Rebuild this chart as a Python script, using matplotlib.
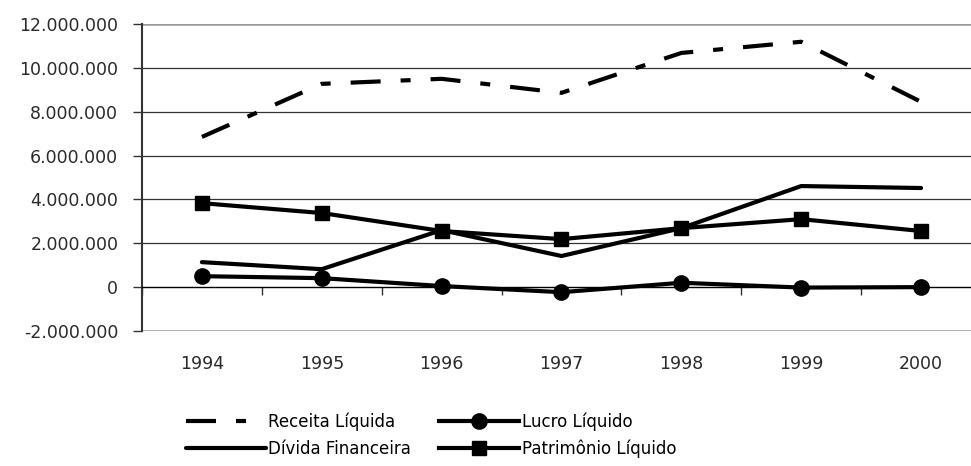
import numpy as np
import matplotlib
matplotlib.use("Agg")
import matplotlib.pyplot as plt
from matplotlib.ticker import FuncFormatter, FixedLocator

plt.rcParams['font.family'] = ['DejaVu Sans']

anos = ['1994', '1995', '1996', '1997', '1998', '1999', '2000']
receita_liquida = [6850000, 9270000, 9500000, 8860000, 10680000, 11190000, 8450000]
lucro_liquido = [500000, 410000, 50000, -230000, 200000, -20000, 0]
divida_financeira = [1140000, 820000, 2600000, 1420000, 2690000, 4610000, 4520000]
patrimonio_liquido = [3830000, 3380000, 2560000, 2190000, 2690000, 3100000, 2560000]

x = np.arange(len(anos))

fig = plt.figure(figsize=(9.71, 4.66), dpi=100)
ax = fig.add_axes([0.1462, 0.2897, 0.8641, 0.6588])

lw = 3
ax.plot(x, receita_liquida, color='black', lw=lw, dashes=(7.2, 4.8, 2.4, 4.8),
        label='Receita Líquida', zorder=3)
ax.plot(x, divida_financeira, color='black', lw=lw, solid_capstyle='round',
        label='Dívida Financeira', zorder=3)
ax.plot(x, lucro_liquido, color='black', lw=lw, marker='o', markersize=11,
        label='Lucro Líquido', zorder=4)
ax.plot(x, patrimonio_liquido, color='black', lw=lw, marker='s', markersize=10,
        label='Patrimônio Líquido', zorder=4)

ax.set_xlim(-0.5, len(anos) - 0.5)
ax.set_ylim(-2000000, 12000000)

# y axis: thousands with dots
ax.yaxis.set_major_locator(FixedLocator(np.arange(-2000000, 12000001, 2000000)))
ax.yaxis.set_major_formatter(FuncFormatter(lambda v, p: f"{int(v):,}".replace(',', '.')))
ax.tick_params(axis='y', length=6.5, width=1, color='#333333', pad=10.5,
               labelsize=12.5, labelcolor='#2a2a2a')

# gridlines between the borders
for v in np.arange(2000000, 10000001, 2000000):
    ax.axhline(v, color='#333333', lw=0.9, zorder=1)
ax.axhline(12000000, color='#999999', lw=1.8, zorder=1)
ax.axhline(-2000000, color='#999999', lw=1.8, zorder=1)

# x axis sits at zero, tick marks at category boundaries
ax.spines['bottom'].set_position(('data', 0))
ax.spines['bottom'].set_color('black')
ax.spines['bottom'].set_linewidth(1)
ax.spines['top'].set_visible(False)
ax.spines['right'].set_visible(False)
ax.spines['left'].set_color('#333333')
ax.spines['left'].set_linewidth(1.5)

ax.set_xticks(x)
ax.set_xticklabels(anos)
ax.set_xticks(np.arange(-0.5, len(anos), 1), minor=True)
ax.tick_params(axis='x', which='major', length=0, pad=49, labelsize=12.5,
               labelcolor='#2a2a2a')
ax.tick_params(axis='x', which='minor', length=6, width=1, color='#333333',
               direction='out')

handles, labels = ax.get_legend_handles_labels()
leg = fig.legend(handles, labels, ncol=2, loc='center',
                 bbox_to_anchor=(0.444, 0.066), frameon=False,
                 handlelength=4.8, handletextpad=0.15, columnspacing=1.7,
                 labelspacing=0.55, fontsize=12)

fig.savefig('out.png', dpi=100)
